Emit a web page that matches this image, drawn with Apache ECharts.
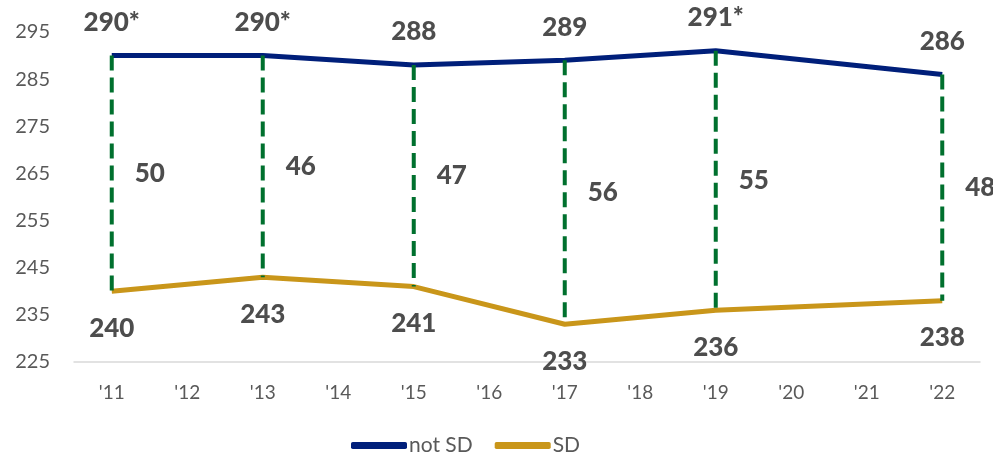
<!DOCTYPE html>
<html>
<head>
<meta charset="utf-8">
<script src="https://cdn.jsdelivr.net/npm/echarts@6/dist/echarts.min.js"></script>
<style>
  html, body { margin: 0; padding: 0; background: #ffffff; }
  #chart { width: 993px; height: 457px; }
</style>
</head>
<body>
<div id="chart"></div>
<script>
// Axis categories (every year shown on the axis)
const years = ["'11", "'12", "'13", "'14", "'15", "'16", "'17", "'18", "'19", "'20", "'21", "'22"];
// Years with survey results
const surveyYears = ["'11", "'13", "'15", "'17", "'19", "'22"];
// Average scores
const notSD = [290, 290, 288, 289, 291, 286];
const SD = [240, 243, 241, 233, 236, 238];
// Printed score labels (asterisk marks a significant difference)
const notSDLabels = ['290*', '290*', '288', '289', '291*', '286'];
const SDLabels = ['240', '243', '241', '233', '236', '238'];
// Score gap between the two groups
const gaps = [50, 46, 47, 56, 55, 48];
// Y-axis range
const yMin = 225, yMax = 295, yStep = 10;

const FONT = 'Lato';
const NAVY = '#001F7A';
const GOLD = '#C9961A';
const GREEN = '#00702E';
const LABEL = '#4D4D4D';
const AXIS = '#595959';

const chart = echarts.init(document.getElementById('chart'));

const gapData = surveyYears.map((y, i) => [y, notSD[i], SD[i], gaps[i]]);

const valueLabel = (position, distance, texts) => ({
  show: true,
  position: position,
  distance: distance,
  fontFamily: FONT,
  fontWeight: 900,
  fontSize: 26,
  color: LABEL,
  formatter: p => texts[p.dataIndex]
});

chart.setOption({
  animation: false,
  grid: { left: 74, right: 13, top: 32, bottom: 95 },
  legend: {
    left: 351,
    bottom: 1,
    padding: 0,
    itemWidth: 56,
    itemHeight: 7,
    itemGap: 22,
    icon: 'roundRect',
    textStyle: { fontFamily: FONT, fontSize: 21, color: AXIS, padding: [0, 0, 0, -3] },
    data: ['not SD', 'SD']
  },
  xAxis: {
    type: 'category',
    data: years,
    boundaryGap: true,
    axisLine: { lineStyle: { color: '#D9D9D9', width: 1.5 } },
    axisTick: { show: false },
    axisLabel: { fontFamily: FONT, fontSize: 19, color: AXIS, margin: 21 },
    splitLine: { show: false }
  },
  yAxis: {
    type: 'value',
    min: yMin,
    max: yMax,
    interval: yStep,
    axisLine: { show: false },
    axisTick: { show: false },
    splitLine: { show: false },
    axisLabel: { fontFamily: FONT, fontSize: 20, color: AXIS, margin: 24 }
  },
  series: [
    {
      name: 'not SD',
      type: 'line',
      data: surveyYears.map((y, i) => [y, notSD[i]]),
      symbol: 'circle',
      symbolSize: 0,
      showSymbol: true,
      lineStyle: { color: NAVY, width: 5 },
      itemStyle: { color: NAVY },
      label: valueLabel('top', 20, notSDLabels),
      z: 2
    },
    {
      name: 'SD',
      type: 'line',
      data: surveyYears.map((y, i) => [y, SD[i]]),
      symbol: 'circle',
      symbolSize: 0,
      showSymbol: true,
      lineStyle: { color: GOLD, width: 5 },
      itemStyle: { color: GOLD },
      label: valueLabel('bottom', 24, SDLabels),
      z: 2
    },
    {
      // Dashed connectors showing the gap between the two groups
      name: 'gap',
      type: 'custom',
      data: gapData,
      encode: { x: 0, y: [1, 2] },
      z: 3,
      renderItem: function (params, api) {
        const top = api.coord([api.value(0), api.value(1)]);
        const bottom = api.coord([api.value(0), api.value(2)]);
        return {
          type: 'group',
          children: [
            {
              type: 'line',
              shape: { x1: top[0], y1: top[1], x2: bottom[0], y2: bottom[1] },
              style: { stroke: GREEN, lineWidth: 4, lineDash: [15, 7] }
            },
            {
              type: 'text',
              style: {
                x: top[0] + 23,
                y: (top[1] + bottom[1]) / 2,
                text: String(api.value(3)),
                fill: LABEL,
                font: '900 26px ' + FONT,
                textAlign: 'left',
                textVerticalAlign: 'middle'
              }
            }
          ]
        };
      }
    }
  ]
});
</script>
</body>
</html>
